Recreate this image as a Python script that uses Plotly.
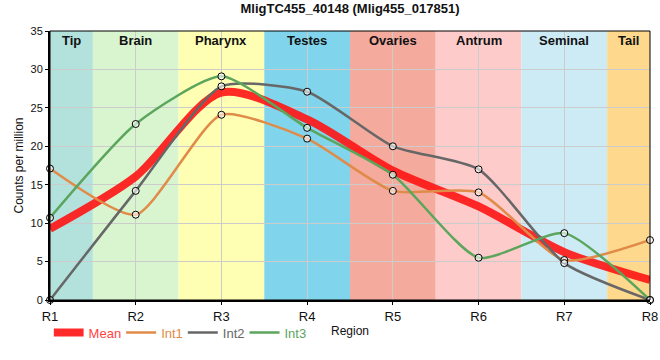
import plotly.graph_objects as go

regions = ["R1", "R2", "R3", "R4", "R5", "R6", "R7", "R8"]
int1 = [17.1, 11.1, 24.1, 21.0, 14.2, 14.0, 5.2, 7.8]
int2 = [0.0, 14.2, 27.8, 27.1, 20.0, 17.0, 4.8, 0.0]
int3 = [10.7, 22.9, 29.1, 22.4, 16.3, 5.5, 8.7, 0.0]
mean = [round((a + b + c) / 3, 2) for a, b, c in zip(int1, int2, int3)]

band_names = ["Tip", "Brain", "Pharynx", "Testes", "Ovaries", "Antrum", "Seminal", "Tail"]
band_colors = ["#b3e2dd", "#d9f5d0", "#ffffb3", "#80d4ec", "#f4aa9d", "#fecbcb", "#cdebf5", "#fed98d"]

xs = list(range(len(regions)))
fig = go.Figure()

shapes = []
annotations = []
for i, (nm, col) in enumerate(zip(band_names, band_colors)):
    x0 = max(0, i - 0.5)
    x1 = min(len(regions) - 1, i + 0.5)
    shapes.append(dict(type="rect", xref="x", yref="paper", x0=x0, x1=x1, y0=0, y1=1,
                       fillcolor=col, line_width=0, layer="below"))
    annotations.append(dict(x=(x0 + x1) / 2, y=1, xref="x", yref="paper", text="<b>%s</b>" % nm,
                            showarrow=False, yanchor="top", yshift=0,
                            font=dict(size=13, color="#111")))

series = [
    ("Int1", int1, "#e08b48"),
    ("Int2", int2, "#676767"),
    ("Int3", int3, "#5ba55d"),
]

fig.add_trace(go.Scatter(x=xs, y=mean, mode="lines", name="<span style='color:#ff4444'>Mean</span>",
                         line=dict(color="rgba(255,20,20,0.9)", width=8, shape="spline", smoothing=0.8),
                         cliponaxis=False))
for nm, vals, col in series:
    fig.add_trace(go.Scatter(x=xs, y=vals, mode="lines", name="<span style='color:%s'>%s</span>" % (col, nm),
                             line=dict(color=col, width=2.5, shape="spline", smoothing=0.6),
                             cliponaxis=False))
for nm, vals, col in series:
    fig.add_trace(go.Scatter(x=xs, y=vals, mode="markers", showlegend=False,
                             marker=dict(symbol="circle", size=7, color="rgba(255,255,255,0.6)",
                                         line=dict(color="black", width=1)),
                             cliponaxis=False))

fig.update_layout(
    width=660, height=360,
    margin=dict(l=50, r=10, t=31, b=60),
    paper_bgcolor="white", plot_bgcolor="white",
    font=dict(family="Liberation Sans, Arial, sans-serif", size=12, color="#111"),
    title=dict(text="<b>MligTC455_40148 (Mlig455_017851)</b>", x=0.5, xanchor="center",
               xref="paper", yref="container", y=1 - 4 / 360, yanchor="top", font=dict(size=13),
               automargin=False),
    shapes=shapes, annotations=annotations,
    showlegend=True,
    legend=dict(orientation="h", x=0.006, xanchor="left", y=-0.065, yanchor="top",
                font=dict(size=13), itemwidth=30, tracegroupgap=0, indentation=-5,
                bgcolor="rgba(0,0,0,0)"),
    xaxis=dict(range=[0, 7], tickvals=xs, ticktext=regions, showgrid=True, gridcolor="#cccccc",
               gridwidth=1, zeroline=False, showline=True, linecolor="black", linewidth=2,
               mirror=False, ticks="outside", ticklen=3, tickcolor="black", automargin=False,
               ticklabeloverflow="allow",
               tickfont=dict(size=13, color="#111"),
               title=dict(text="Region", standoff=4, font=dict(size=12)), layer="above traces"),
    yaxis=dict(range=[0, 35], dtick=5, showgrid=True, gridcolor="#cccccc", gridwidth=1,
               zeroline=False, showline=True, linecolor="black", linewidth=2, ticks="outside",
               ticklen=3, tickcolor="black", tickfont=dict(size=11, color="#111"), automargin=False,
               title=dict(text="Counts per million", standoff=4, font=dict(size=12)),
               layer="above traces"),
)
# thin top/right border
fig.add_shape(type="rect", xref="paper", yref="paper", x0=0, x1=1, y0=0, y1=1,
              line=dict(color="black", width=1), fillcolor="rgba(0,0,0,0)", layer="above")

fig.write_html("out.html", config={"displayModeBar": False},
               post_script="document.body.style.margin='0';")
